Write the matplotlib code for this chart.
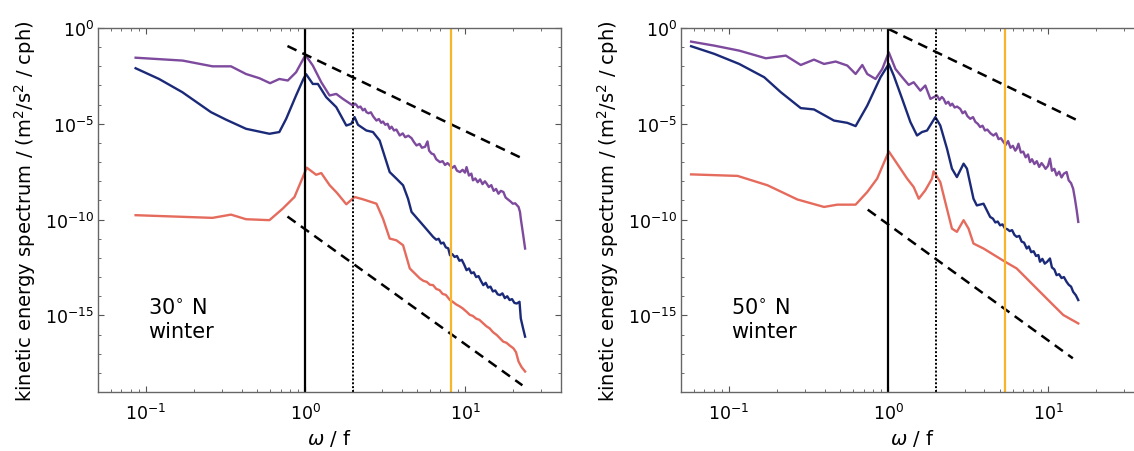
import numpy as np
import matplotlib.pyplot as plt
from matplotlib import ticker

# spectra are stored as log10(omega/f) and log10(KE spectrum)
# 30N, winter
w30_purple = [-1.065, -0.77, -0.583, -0.467, -0.373, -0.289, -0.222, -0.164, -0.111, -0.059, 0.0, 0.046,
              0.099, 0.151, 0.193, 0.235, 0.298, 0.31, 0.319, 0.33, 0.345, 0.36, 0.372, 0.382, 0.395, 0.41,
              0.425, 0.445, 0.46, 0.475, 0.486, 0.50, 0.515, 0.528, 0.54, 0.555, 0.57, 0.591, 0.61, 0.625,
              0.645, 0.665, 0.68, 0.696, 0.715, 0.73, 0.75, 0.765, 0.775, 0.79, 0.805, 0.82, 0.843, 0.86,
              0.875, 0.89, 0.906, 0.92, 0.935, 0.95, 0.969, 0.985, 1.0, 1.01, 1.025, 1.04, 1.05, 1.065,
              1.08, 1.095, 1.11, 1.125, 1.136, 1.15, 1.165, 1.18, 1.195, 1.21, 1.225, 1.241, 1.255, 1.27,
              1.285, 1.30, 1.315, 1.336, 1.345, 1.35, 1.365, 1.377]
ke30_purple = [-1.55, -1.70, -2.0, -2.0, -2.40, -2.62, -2.88, -2.66, -2.74, -2.31, -1.41, -1.96,
               -2.83, -3.52, -3.44, -3.70, -4.05, -3.95, -4.01, -4.15, -4.10, -4.30, -4.22, -4.39, -4.45, -4.40,
               -4.62, -4.83, -4.75, -4.95, -4.88, -5.05, -5.0, -5.26, -5.15, -5.35, -5.30, -5.61, -5.50, -5.70,
               -5.62, -5.75, -5.95, -6.13, -6.05, -6.25, -6.2, -5.92, -6.4, -6.55, -6.6, -6.85, -7.0, -6.95,
               -7.15, -7.05, -7.17, -7.3, -7.2, -7.45, -7.52, -7.40, -7.55, -7.26, -7.7, -7.6, -7.95, -7.85,
               -8.05, -7.9, -8.15, -8.0, -8.12, -8.3, -8.2, -8.5, -8.4, -8.65, -8.5, -8.56, -8.85, -8.95,
               -9.05, -9.17, -9.15, -9.34, -9.6, -9.95, -10.8, -11.51]

w30_blue = [-1.065, -0.918, -0.772, -0.593, -0.499, -0.373, -0.226, -0.164, -0.121, -0.059, -0.013, 0.004,
            0.046, 0.078, 0.13, 0.193, 0.256, 0.287, 0.308, 0.329, 0.382, 0.423, 0.465, 0.528, 0.57, 0.612,
            0.643, 0.665, 0.738, 0.80, 0.82, 0.835, 0.85, 0.865, 0.88, 0.895, 0.906, 0.92, 0.935, 0.95,
            0.965, 0.98, 0.995, 1.01, 1.025, 1.04, 1.055, 1.07, 1.085, 1.10, 1.115, 1.13, 1.145, 1.16,
            1.175, 1.19, 1.205, 1.22, 1.235, 1.25, 1.265, 1.28, 1.295, 1.31, 1.325, 1.342, 1.35, 1.365, 1.377]
ke30_blue = [-2.10, -2.66, -3.35, -4.39, -4.78, -5.26, -5.52, -5.43, -4.74, -3.52, -2.66, -2.41,
             -2.92, -2.92, -3.61, -4.13, -5.09, -5.0, -4.65, -5.05, -5.35, -5.43, -5.87, -7.52, -7.86, -8.21,
             -8.91, -9.60, -10.30, -10.90, -11.05, -11.0, -11.25, -11.2, -11.45, -11.5, -11.86, -11.8, -11.95, -11.9,
             -12.15, -12.1, -12.35, -12.64, -12.55, -12.8, -12.75, -13.0, -12.95, -13.2, -13.42, -13.3, -13.55, -13.5,
             -13.75, -13.7, -13.9, -13.94, -13.85, -14.1, -14.0, -14.2, -14.15, -14.35, -14.38, -14.29, -15.16, -15.7,
             -16.11]

w30_red = [-1.065, -0.583, -0.467, -0.373, -0.226, -0.143, -0.069, 0.008, 0.067, 0.099, 0.151, 0.197,
           0.256, 0.308, 0.36, 0.445, 0.486, 0.528, 0.57, 0.612, 0.654, 0.717, 0.74, 0.76, 0.78, 0.80,
           0.82, 0.84, 0.86, 0.88, 0.906, 0.925, 0.945, 0.965, 0.985, 1.01, 1.03, 1.05, 1.07, 1.09, 1.115,
           1.135, 1.155, 1.175, 1.2, 1.22, 1.24, 1.26, 1.28, 1.304, 1.32, 1.336, 1.355, 1.377]
ke30_red = [-9.77, -9.91, -9.74, -9.98, -10.03, -9.43, -8.82, -7.29, -7.66, -7.57, -8.2, -8.6,
            -9.2, -8.82, -8.94, -9.17, -9.95, -10.99, -11.08, -11.34, -12.55, -13.07, -13.2, -13.25, -13.4, -13.42,
            -13.62, -13.68, -13.88, -13.93, -14.20, -14.3, -14.43, -14.52, -14.63, -14.81, -14.97, -15.03, -15.17, -15.23, -15.42,
            -15.57, -15.68, -15.87, -16.03, -16.2, -16.37, -16.43, -16.57, -16.72, -16.92, -17.41, -17.7, -17.93]

# 50N, winter
w50_purple = [-1.2375, -1.092, -0.936, -0.769, -0.644, -0.55, -0.467, -0.404, -0.331, -0.258, -0.206, -0.164,
              -0.133, -0.081, -0.039, 0.002, 0.044, 0.086, 0.127, 0.158, 0.2, 0.231, 0.263, 0.304, 0.32,
              0.335, 0.346, 0.36, 0.375, 0.388, 0.40, 0.415, 0.43, 0.45, 0.465, 0.48, 0.495, 0.513, 0.53,
              0.545, 0.56, 0.575, 0.59, 0.605, 0.62, 0.64, 0.658, 0.675, 0.69, 0.705, 0.721, 0.735, 0.75,
              0.765, 0.78, 0.795, 0.804, 0.815, 0.83, 0.845, 0.86, 0.875, 0.8875, 0.90, 0.915, 0.93, 0.945,
              0.96, 0.971, 0.985, 1.0, 1.0125, 1.025, 1.04, 1.054, 1.07, 1.085, 1.1, 1.117, 1.13, 1.145,
              1.158, 1.169, 1.18, 1.19]
ke50_purple = [-0.71, -0.92, -1.18, -1.58, -1.44, -1.93, -1.65, -1.875, -1.75, -1.96, -2.40, -1.93,
               -2.40, -2.66, -2.14, -1.27, -2.14, -2.57, -2.97, -2.83, -3.27, -3.0, -3.70, -3.52, -3.75,
               -3.6, -3.70, -3.95, -3.85, -4.05, -3.95, -4.15, -4.1, -4.22, -4.45, -4.35, -4.6, -4.74, -4.65,
               -4.9, -5.0, -5.17, -5.1, -5.35, -5.3, -5.5, -5.61, -5.5, -5.8, -5.75, -5.95, -6.1, -5.9,
               -6.25, -6.15, -6.4, -6.30, -6.04, -6.5, -6.45, -6.75, -6.6, -7.0, -6.85, -7.1, -6.95, -7.25,
               -7.05, -7.17, -7.35, -7.2, -6.82, -7.45, -7.35, -7.69, -7.5, -7.8, -7.6, -7.52, -7.95, -8.1,
               -8.39, -8.91, -9.5, -10.12]

w50_blue = [-1.2375, -1.092, -0.936, -0.779, -0.675, -0.55, -0.467, -0.342, -0.258, -0.206, -0.133, -0.05,
            0.002, 0.033, 0.086, 0.1375, 0.179, 0.21, 0.242, 0.294, 0.325, 0.367, 0.398, 0.429, 0.471, 0.492,
            0.533, 0.554, 0.596, 0.6375, 0.655, 0.67, 0.685, 0.70, 0.715, 0.731, 0.745, 0.76, 0.775, 0.79,
            0.804, 0.82, 0.835, 0.85, 0.867, 0.88, 0.895, 0.91, 0.925, 0.94, 0.95, 0.965, 0.98, 0.995,
            1.0125, 1.025, 1.04, 1.054, 1.07, 1.085, 1.10, 1.117, 1.13, 1.145, 1.158, 1.175, 1.19]
ke50_blue = [-0.95, -1.35, -1.875, -2.57, -3.35, -4.18, -4.25, -4.83, -4.95, -5.12, -4.05, -2.57,
             -1.875, -2.48, -3.70, -4.91, -5.61, -5.43, -5.35, -4.65, -5.09, -6.30, -7.34, -7.78, -7.08, -7.34,
             -8.91, -9.26, -9.17, -9.86, -9.95, -10.15, -10.1, -10.3, -10.25, -10.47, -10.5, -10.6, -10.55, -10.8,
             -10.90, -10.85, -11.15, -11.2, -11.51, -11.4, -11.7, -11.65, -11.9, -11.85, -12.20, -12.05, -12.3, -12.2,
             -12.03, -12.5, -12.6, -12.90, -12.85, -13.05, -13.0, -13.25, -13.4, -13.5, -13.77, -13.95, -14.20]

w50_red = [-1.2375, -0.946, -0.758, -0.571, -0.404, -0.321, -0.206, -0.133, -0.071, 0.002, 0.054, 0.117,
           0.158, 0.19, 0.231, 0.273, 0.283, 0.325, 0.356, 0.398, 0.429, 0.471, 0.502, 0.533, 0.596, 0.731,
           0.804, 0.908, 1.0125, 1.096, 1.19]
ke50_red = [-7.64, -7.72, -8.21, -8.95, -9.34, -9.22, -9.22, -8.56, -7.86, -6.44, -7.08, -7.86,
            -8.30, -8.91, -8.47, -7.86, -7.48, -8.04, -9.08, -10.47, -10.64, -10.03, -10.47, -11.25, -11.51, -12.20,
            -12.55, -13.42, -14.29, -14.98, -15.42]

# reference slopes (log10 end points)
ref30_w = [[-0.113, 1.377], [-0.113, 1.36]]
ref30_ke = [[-0.94, -6.875], [-9.84, -18.65]]
ref50_w = [[0.0, 1.19], [-0.13, 1.156]]
ref50_ke = [[-0.05, -4.84], [-9.48, -17.24]]

orange_w = [8.2, 5.35]
panel_labels = ['30$^{\\circ}$ N\nwinter', '50$^{\\circ}$ N\nwinter']

purple = '#7D4A9E'
navy = '#1B2A78'
salmon = '#E56B5D'
gold = '#F7B52C'

plt.rcParams['font.family'] = 'DejaVu Sans'
plt.rcParams['font.size'] = 12

fig = plt.figure(figsize=(11.34, 4.52), dpi=100)
ax1 = fig.add_axes([0.0864, 0.1305, 0.4083, 0.8053])
ax2 = fig.add_axes([0.6005, 0.1305, 0.4083, 0.8053])


def draw_panel(ax, curves, ref_w, ref_ke, w_orange, label):
    for w, ke, c in curves:
        ax.plot(10 ** np.array(w), 10 ** np.array(ke), color=c, lw=1.7)
    for w, ke in zip(ref_w, ref_ke):
        ax.plot(10 ** np.array(w), 10 ** np.array(ke), color='k', lw=1.8, dashes=(4, 2.6))
    ax.axvline(1, color='k', lw=1.6)
    ax.axvline(2, color='k', lw=1.4, dashes=(1, 1))
    ax.axvline(w_orange, color=gold, lw=1.6)
    ax.set_xscale('log')
    ax.set_yscale('log')
    ax.set_xlim(0.05, 40)
    ax.set_ylim(1e-19, 1)
    ax.set_yticks([1e0, 1e-5, 1e-10, 1e-15])
    ax.yaxis.set_minor_locator(ticker.FixedLocator(10.0 ** np.arange(-19, 1)))
    ax.yaxis.set_minor_formatter(ticker.NullFormatter())
    ax.xaxis.set_minor_formatter(ticker.NullFormatter())
    ax.tick_params(which='both', direction='in', top=True, right=True, color='#555555')
    ax.tick_params(which='major', length=4, labelsize=12.5)
    ax.tick_params(axis='x', which='major', pad=8)
    ax.tick_params(axis='y', which='major', pad=3)
    ax.tick_params(which='minor', length=2.5)
    for s in ax.spines.values():
        s.set_color('#666666')
        s.set_linewidth(1.0)
    ax.set_xlabel('$\\omega$ / f', fontsize=14, labelpad=3)
    ax.set_ylabel('kinetic energy spectrum / (m$^2$/s$^2$ / cph)', fontsize=14, labelpad=5)
    ax.text(0.108, 0.262, label, transform=ax.transAxes, fontsize=15,
            va='top', ha='left', linespacing=1.3)


draw_panel(ax1, [(w30_purple, ke30_purple, purple), (w30_blue, ke30_blue, navy), (w30_red, ke30_red, salmon)],
           ref30_w, ref30_ke, orange_w[0], panel_labels[0])
draw_panel(ax2, [(w50_purple, ke50_purple, purple), (w50_blue, ke50_blue, navy), (w50_red, ke50_red, salmon)],
           ref50_w, ref50_ke, orange_w[1], panel_labels[1])

fig.savefig('out.png', dpi=100)
